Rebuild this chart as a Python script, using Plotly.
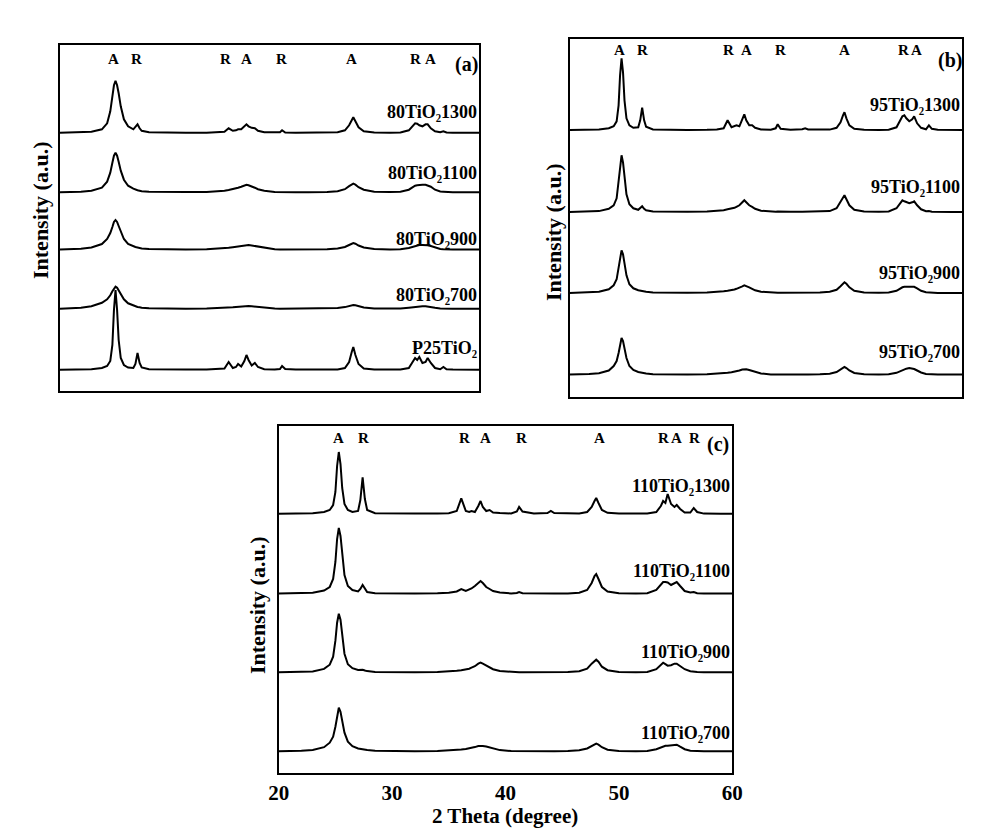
import plotly.graph_objects as go

# ---------------- data ----------------
# shared 2-theta grid (degree)
two_theta = [20.0, 21.0, 22.0, 23.0, 24.0,
             24.5, 24.8, 25.0, 25.15, 25.3, 25.45, 25.6, 25.8, 26.1, 26.5,
             27.0, 27.2, 27.4, 27.6, 27.8, 28.5, 30.0, 32.0, 34.0, 35.0,
             35.7, 36.1, 36.5, 36.8, 37.0, 37.3, 37.6, 37.8, 38.0, 38.3, 38.6, 38.9, 39.5, 40.5, 41.0,
             41.2, 41.5, 42.5, 43.7, 44.0, 44.3, 45.5, 46.5, 47.2, 47.6, 47.85, 48.0, 48.2, 48.5, 49.0,
             50.0, 51.5, 52.5, 53.3, 53.7, 53.9, 54.1, 54.3, 54.6, 54.9, 55.1, 55.4, 55.8, 56.3, 56.6, 56.9, 57.5, 59.0, 60.0]

# panel (a) intensities (a.u., above each pattern's own baseline)
a_1300 = [0.5, 0.6, 0.8, 1.5, 4,
          10, 22, 38, 48, 52.6, 48, 40, 27, 14, 7,
          4, 6, 9, 5, 2.5, 1, 0.5, 0.5, 0.6, 0.8,
          1.5, 5, 2.5, 3, 4, 4, 7, 9, 7, 5.5, 5, 2.5, 1, 0.5, 1,
          3, 0.8, 0.5, 0.5, 0.8, 0.5, 0.5, 1, 3, 8, 13, 16, 12, 6, 2,
          0.7, 0.5, 0.8, 3, 8, 10, 9.5, 8, 7, 9, 9, 5, 2, 1, 2, 0.8, 0.5, 0.5, 0.5]
a_1100 = [0.5, 0.7, 1.0, 2, 5,
          11, 20, 30, 37, 40, 37, 31, 22, 13, 7,
          4, 3, 2.5, 2, 1.5, 1, 0.6, 0.6, 0.8, 1.2,
          2, 2.8, 3.5, 4.5, 5, 6, 7.5, 8, 7.5, 6.5, 5, 3.5, 2, 0.8, 0.6,
          0.6, 0.6, 0.5, 0.5, 0.5, 0.5, 0.7, 1.5, 3.5, 6.5, 8.5, 9, 8, 5.5, 3,
          1, 0.6, 1, 3, 6, 7, 7.5, 8, 8, 8, 7.5, 6, 3, 1.2, 1, 0.7, 0.5, 0.5, 0.5]
a_900 = [0.5, 0.8, 1.2, 2.5, 6,
         11, 17, 23, 28, 30, 28, 24, 18, 11, 6,
         3.5, 3, 2.5, 2, 1.5, 1, 0.6, 0.6, 0.8, 1.2,
         1.8, 2.2, 2.8, 3.2, 3.5, 4, 4.5, 5, 5, 4.5, 4, 3, 1.8, 0.8, 0.6,
         0.6, 0.5, 0.5, 0.5, 0.5, 0.5, 0.7, 1.5, 3, 5, 6.5, 7, 6.3, 4.5, 2.5,
         1, 0.6, 0.8, 2, 3.5, 4.2, 4.7, 5, 5, 5, 4.8, 4, 2.5, 1, 0.8, 0.6, 0.5, 0.5, 0.5]
a_700 = [0.5, 1, 1.5, 3, 6.5,
         10, 14, 18, 21, 22.7, 21.5, 19, 15, 10, 6,
         3.5, 2.8, 2.3, 2, 1.6, 1, 0.6, 0.6, 0.7, 1,
         1.3, 1.6, 2, 2.3, 2.5, 2.8, 3, 3.2, 3.2, 3, 2.6, 2.1, 1.4, 0.7, 0.5,
         0.5, 0.5, 0.5, 0.5, 0.5, 0.5, 0.6, 1.2, 2.2, 3.3, 4, 4.2, 4, 3, 1.8,
         0.8, 0.5, 0.7, 1.5, 2.2, 2.6, 2.9, 3, 3.1, 3, 2.8, 2.3, 1.5, 0.8, 0.6, 0.5, 0.5, 0.5, 0.5]
a_p25 = [0.3, 0.3, 0.4, 0.7, 2,
         4, 9, 25, 60, 80, 60, 30, 12, 5, 2.5,
         2, 6, 17, 7, 2.5, 0.8, 0.4, 0.4, 0.5, 0.7,
         1.5, 8, 2, 3, 6, 3.5, 9, 15, 10, 4.5, 7, 3, 0.8, 0.4, 1,
         4, 1, 0.4, 0.5, 1, 0.5, 0.4, 0.6, 2, 8, 18, 23, 15, 6, 1.5,
         0.5, 0.4, 0.5, 2, 8, 12, 10, 13, 7, 8, 12, 7, 2, 0.8, 3, 0.8, 0.4, 0.3, 0.3]

# panel (b)
b_1300 = [0.3, 0.3, 0.4, 0.7, 2,
          4, 9, 25, 55, 72, 58, 30, 12, 5, 2.5,
          3, 10, 22.6, 10, 3.5, 0.8, 0.4, 0.4, 0.5, 0.8,
          2, 10, 3, 4, 5, 4, 11, 16, 10, 5, 5, 2.5, 0.8, 0.5, 2,
          6, 1.5, 0.5, 1, 2, 0.8, 0.5, 0.7, 2.5, 8, 15, 18, 12, 5, 1.5,
          0.5, 0.4, 0.6, 3, 10, 14, 15, 12, 9, 11, 14, 7, 2.5, 1, 5, 1.5, 0.5, 0.3, 0.3]
b_1100 = [0.4, 0.5, 0.6, 1.2, 3.5,
          7, 14, 30, 48, 57, 50, 35, 18, 8, 4,
          2.5, 4, 6, 3.5, 2, 0.8, 0.5, 0.5, 0.7, 1.2,
          2, 3, 3.5, 4.5, 5.5, 7, 10, 12, 10, 7, 5.5, 3.5, 1.5, 0.6, 0.6,
          0.8, 0.6, 0.5, 0.5, 0.6, 0.5, 0.6, 1.2, 4, 10, 15, 17, 13, 7, 2.5,
          0.8, 0.5, 0.8, 4, 9, 12, 11, 10, 9, 10, 11, 7, 3, 1, 1.2, 0.6, 0.4, 0.4, 0.4]
b_900 = [0.4, 0.6, 0.8, 1.5, 4,
         8, 14, 25, 37, 43, 39, 30, 18, 9, 5,
         3, 2.5, 2.2, 1.8, 1.5, 0.8, 0.5, 0.5, 0.8, 1.2,
         2, 2.5, 3, 3.8, 4.5, 5.5, 7, 8, 7.5, 6, 4.5, 3, 1.5, 0.6, 0.5,
         0.5, 0.5, 0.5, 0.5, 0.5, 0.5, 0.7, 1.5, 3.5, 7, 10, 11, 9.5, 6, 2.5,
         0.8, 0.5, 0.8, 2.5, 5, 6, 6.5, 6.5, 7, 7, 6.5, 5, 2.5, 1, 0.8, 0.5, 0.4, 0.4, 0.4]
b_700 = [0.4, 0.6, 0.9, 1.8, 4.5,
         9, 14, 22, 31, 37, 34, 27, 17, 9, 5,
         3, 2.5, 2, 1.8, 1.5, 0.8, 0.5, 0.5, 0.8, 1.2,
         1.8, 2.2, 2.7, 3.2, 3.7, 4.5, 5.5, 6, 5.8, 5, 4, 3, 1.5, 0.6, 0.5,
         0.5, 0.5, 0.5, 0.5, 0.5, 0.5, 0.7, 1.3, 3, 5.5, 7.5, 8, 7, 4.5, 2,
         0.8, 0.5, 0.8, 2.2, 4, 5, 5.8, 6.3, 7, 6.8, 6, 4.5, 2.5, 1, 0.7, 0.5, 0.4, 0.4, 0.4]

# panel (c)
c_1300 = [0.3, 0.3, 0.4, 0.7, 2,
          4, 9, 22, 48, 62, 50, 26, 10, 4, 2,
          3, 14, 36.7, 15, 4, 0.8, 0.4, 0.4, 0.5, 0.8,
          3, 15.7, 3, 2, 3, 2, 8, 13, 7, 3, 4, 1.5, 1, 0.5, 2.5,
          7, 2.5, 0.5, 1, 3, 1, 0.4, 0.6, 2, 7, 13, 16, 11, 4, 1.2,
          0.4, 0.4, 0.5, 2, 8, 13, 11, 20, 10, 7, 9, 5, 1.5, 1.5, 6, 2, 0.4, 0.3, 0.3]
c_1100 = [0.4, 0.5, 0.6, 1.2, 3.5,
          7, 15, 32, 55, 66, 58, 38, 19, 8, 4,
          2.5, 5, 9, 5, 2, 0.8, 0.5, 0.5, 0.7, 1.2,
          2.5, 5, 3, 4.5, 5.5, 8, 11, 13, 11, 7, 5, 3, 1.5, 0.6, 1,
          2, 0.8, 0.5, 0.5, 0.8, 0.5, 0.6, 1.2, 4, 11, 18, 20, 15, 7, 2.5,
          0.7, 0.5, 0.8, 4, 9, 12, 12, 11.5, 9, 11, 12, 8, 3, 1.5, 2, 0.8, 0.4, 0.4, 0.4]
c_900 = [0.4, 0.5, 0.7, 1.3, 3.8,
         8, 16, 32, 50, 59, 53, 36, 19, 8.5, 4.5,
         2.8, 2.8, 3, 2.2, 1.6, 0.8, 0.5, 0.5, 0.8, 1.2,
         2, 2.5, 3.2, 4, 5, 6.5, 9, 10, 9, 7, 5.5, 3.5, 1.7, 0.6, 0.5,
         0.5, 0.5, 0.5, 0.5, 0.5, 0.5, 0.7, 1.5, 4, 9, 12, 13, 11, 6, 2.5,
         0.8, 0.5, 0.8, 3.5, 8, 10, 8.5, 7, 7.5, 9, 9, 7, 3.5, 1.5, 1, 0.6, 0.4, 0.4, 0.4]
c_700 = [0.4, 0.6, 0.9, 1.8, 4.5,
         9, 15, 25, 37, 44, 40, 31, 19, 10, 5.5,
         3.2, 2.7, 2.3, 2, 1.6, 0.9, 0.5, 0.5, 0.8, 1.1,
         1.7, 2.1, 2.6, 3.2, 3.8, 4.6, 5.6, 6, 5.8, 5.2, 4.4, 3.2, 1.6, 0.6, 0.5,
         0.5, 0.5, 0.5, 0.5, 0.5, 0.5, 0.7, 1.4, 3.2, 6, 7.5, 8, 7, 4.5, 2,
         0.8, 0.5, 0.8, 2.5, 4.5, 5.5, 6, 6, 6.3, 6.8, 7, 5, 2.5, 1, 0.7, 0.5, 0.4, 0.4, 0.4]

# vertical stacking offsets (a.u.)
a_offsets = [257.7, 198.3, 141.0, 81.7, 21.0]
b_offsets = [266.4, 184.4, 103.4, 21.7]
c_offsets = [258.7, 178.7, 100.0, 21.0]

a_names = ["80TiO₂1300", "80TiO₂1100", "80TiO₂900", "80TiO₂700", "P25TiO₂"]
b_names = ["95TiO₂1300", "95TiO₂1100", "95TiO₂900", "95TiO₂700"]
c_names = ["110TiO₂1300", "110TiO₂1100", "110TiO₂900", "110TiO₂700"]

# phase labels (A = anatase, R = rutile) and their 2-theta positions
a_phase = [("A", 25.1), ("R", 27.3), ("R", 35.8), ("A", 37.8), ("R", 41.1), ("A", 47.8), ("R", 53.9), ("A", 55.4)]
b_phase = [("A", 25.1), ("R", 27.4), ("R", 36.2), ("A", 38.0), ("R", 41.5), ("A", 48.0), ("R", 54.0), ("A", 55.3)]
c_phase = [("A", 25.3), ("R", 27.5), ("R", 36.4), ("A", 38.2), ("R", 41.4), ("A", 48.3), ("R", 53.9), ("A", 55.1), ("R", 56.7)]

x_ticks = [20, 30, 40, 50, 60]

# ---------------- figure ----------------
PAGE_MARGIN = 8          # default body margin of the html page
W, H = 999 - 2 * PAGE_MARGIN, 838 - 2 * PAGE_MARGIN
FONT = "Liberation Serif, Times New Roman, serif"

def px_x(p):
    return (p - PAGE_MARGIN) / W

def px_y(p):
    return 1 - (p - PAGE_MARGIN) / H

panels = [
    dict(ax="x", ay="y", xd=(60, 479), yd=(45, 391), curves=[a_1300, a_1100, a_900, a_700, a_p25],
         off=a_offsets, names=a_names, name_y=[111.7, 172.7, 239, 295, 348], phases=a_phase, phase_y=59,
         letter="(a)", letter_pos=(466, 65)),
    dict(ax="x2", ay="y2", xd=(569.5, 962.3), yd=(39.3, 396.7), curves=[b_1300, b_1100, b_900, b_700],
         off=b_offsets, names=b_names, name_y=[105, 186.7, 273.3, 351.7], phases=b_phase, phase_y=50,
         letter="(b)", letter_pos=(950, 60)),
    dict(ax="x3", ay="y3", xd=(278.7, 732.3), yd=(425.7, 772.7), curves=[c_1300, c_1100, c_900, c_700],
         off=c_offsets, names=c_names, name_y=[485.7, 570.7, 651.7, 733.3], phases=c_phase, phase_y=437.7,
         letter="(c)", letter_pos=(718, 444)),
]

fig = go.Figure()
annotations = []
for i, p in enumerate(panels):
    for curve, off, name in zip(p["curves"], p["off"], p["names"]):
        fig.add_trace(go.Scatter(
            x=two_theta, y=[off + v for v in curve], mode="lines",
            line=dict(color="black", width=2.0), name=name,
            showlegend=False, xaxis=p["ax"], yaxis=p["ay"], hoverinfo="skip"))
    top, bot = p["yd"]
    height = bot - top
    sfx = "" if i == 0 else str(i + 1)
    fig.update_layout(**{
        "xaxis" + sfx: dict(domain=[px_x(p["xd"][0]), px_x(p["xd"][1])], range=[20, 60],
                            showline=True, mirror=True, linecolor="black", linewidth=1.5,
                            showgrid=False, zeroline=False, ticks="",
                            showticklabels=(i == 2), tickvals=x_ticks, ticklabelstandoff=0,
                            tickfont=dict(family=FONT, size=21, color="black", weight="bold"),
                            anchor="y" + sfx, automargin=False),
        "yaxis" + sfx: dict(domain=[px_y(bot), px_y(top)], range=[0, height],
                            showline=True, mirror=True, linecolor="black", linewidth=1.5,
                            showgrid=False, zeroline=False, ticks="", showticklabels=False,
                            anchor="x" + sfx, automargin=False),
    })
    for name, ny in zip(p["names"], p["name_y"]):
        annotations.append(dict(x=px_x(p["xd"][1]), y=px_y(ny), xref="paper", yref="paper",
                                text=name, showarrow=False, xanchor="right", yanchor="middle",
                                font=dict(family=FONT, size=18, color="black", weight="bold")))
    for lab, xv in p["phases"]:
        annotations.append(dict(x=xv, y=px_y(p["phase_y"]), xref=p["ax"], yref="paper",
                                text=lab, showarrow=False, xanchor="center", yanchor="middle",
                                font=dict(family=FONT, size=15, color="black", weight="bold")))
    annotations.append(dict(x=px_x(p["letter_pos"][0]), y=px_y(p["letter_pos"][1]), xref="paper", yref="paper",
                            text=p["letter"], showarrow=False, xanchor="center", yanchor="middle",
                            font=dict(family=FONT, size=20, color="black", weight="bold")))

for xc, yc in [(40, 210), (553, 232), (257, 605)]:
    annotations.append(dict(x=px_x(xc), y=px_y(yc), xref="paper", yref="paper",
                            text="Intensity (a.u.)", textangle=-90, showarrow=False,
                            xanchor="center", yanchor="middle",
                            font=dict(family=FONT, size=22, color="black", weight="bold")))
annotations.append(dict(x=px_x(505), y=px_y(816), xref="paper", yref="paper",
                        text="2 Theta (degree)", showarrow=False, xanchor="center", yanchor="middle",
                        font=dict(family=FONT, size=21, color="black", weight="bold")))

fig.update_layout(width=W, height=H, margin=dict(l=0, r=0, t=0, b=0, autoexpand=False),
                  paper_bgcolor="white", plot_bgcolor="white",
                  annotations=annotations, showlegend=False)

fig.write_html("out.html")
